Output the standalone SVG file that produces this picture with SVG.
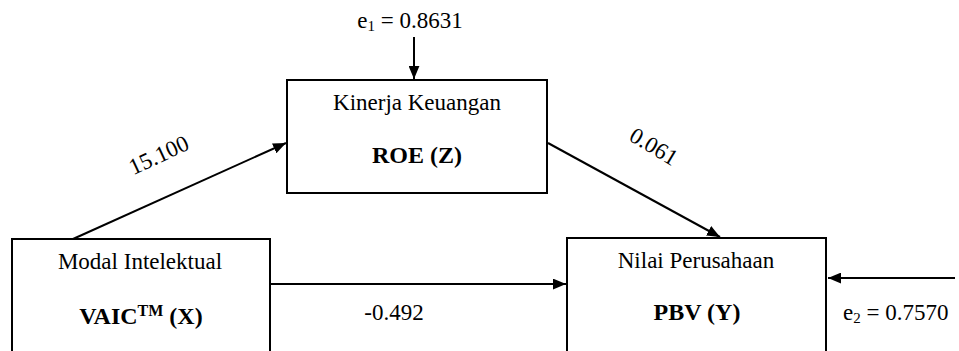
<svg xmlns="http://www.w3.org/2000/svg" width="959" height="351" viewBox="0 0 959 351">
<style>
.box{fill:#fff;stroke:#000;stroke-width:2}
.c{fill:none;stroke:#000;stroke-width:2}
.t{font-family:'Liberation Serif','Times New Roman',serif;font-size:23px;fill:#000}
.b{font-family:'Liberation Serif','Times New Roman',serif;font-size:24px;font-weight:bold;fill:#000}
.s{font-size:15px}
.sup{font-size:16px}
</style>
<defs>
<marker id="ah" viewBox="0 0 12 10" refX="12" refY="5" markerWidth="13" markerHeight="11" markerUnits="userSpaceOnUse" orient="auto">
<path d="M0,0 L12,5 L0,10 Z" fill="#000"/>
</marker>
</defs>
<g id="connectors">
<line class="c" x1="414" y1="37" x2="414" y2="79" marker-end="url(#ah)"/>
<line class="c" x1="73" y1="239" x2="286" y2="143" marker-end="url(#ah)"/>
<line class="c" x1="548" y1="143" x2="720" y2="237" marker-end="url(#ah)"/>
<line class="c" x1="270" y1="284" x2="566" y2="284" marker-end="url(#ah)"/>
<line class="c" x1="955" y1="278" x2="828" y2="278" marker-end="url(#ah)"/>
</g>
<g id="labels">
<text class="t" transform="translate(162,162) rotate(-25)" text-anchor="middle">15.100</text>
<text class="t" transform="translate(650,153) rotate(31)" text-anchor="middle">0.061</text>
<text class="t" x="394" y="320" text-anchor="middle">-0.492</text>
<text class="t" x="410" y="28" text-anchor="middle">e<tspan class="s" dy="3">1</tspan><tspan dy="-3"> = 0.8631</tspan></text>
<text class="t" x="843" y="320">e<tspan class="s" dy="3">2</tspan><tspan dy="-3"> = 0.7570</tspan></text>
</g>
<g id="nodeZ">
<rect class="box" x="287" y="80" width="260" height="113"/>
<text class="t" x="417" y="110" text-anchor="middle">Kinerja Keuangan</text>
<text class="b" x="417" y="163" text-anchor="middle">ROE (Z)</text>
</g>
<g id="nodeX">
<rect class="box" x="12" y="239" width="258" height="130"/>
<text class="t" x="140" y="269" text-anchor="middle">Modal Intelektual</text>
<text class="b" x="141" y="324" text-anchor="middle">VAIC<tspan class="sup" dy="-8">TM</tspan><tspan dy="8"> (X)</tspan></text>
</g>
<g id="nodeY">
<rect class="box" x="567" y="238" width="259" height="130"/>
<text class="t" x="696" y="268" text-anchor="middle">Nilai Perusahaan</text>
<text class="b" x="697" y="320" text-anchor="middle">PBV (Y)</text>
</g>
</svg>
